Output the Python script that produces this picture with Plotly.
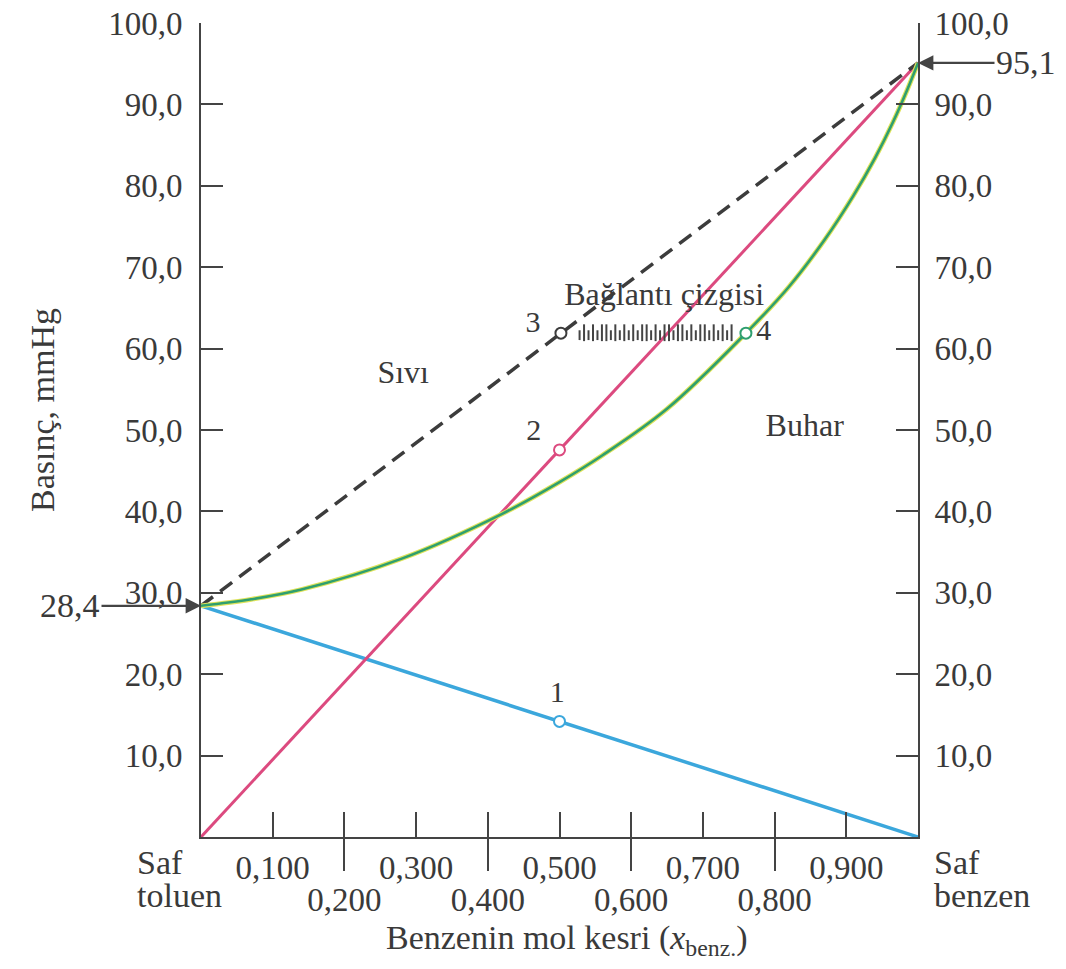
import plotly.graph_objects as go
import numpy as np

FONT = "Liberation Serif, Times New Roman, serif"
INK = "#3a3a3a"
AXIS = "#444444"

# ---------------- data ----------------
x_ends = [0.0, 1.0]
p_toluene = [28.4, 0.0]      # partial pressure of toluene
p_benzene = [0.0, 95.1]      # partial pressure of benzene
p_total = [28.4, 95.1]       # total pressure (liquid line)

# vapour (dew) line
vapor_x = [0.0, 0.07, 0.14, 0.28, 0.42, 0.5, 0.56, 0.65, 0.76,
           0.82, 0.87, 0.91, 0.94, 0.965, 0.985, 1.0]
vapor_p = [28.4, 29.2, 30.4, 34.2, 39.7, 43.6, 46.9, 52.6, 61.9,
           67.6, 73.4, 78.8, 83.4, 87.8, 91.8, 95.1]

point_names = ["1", "2", "3", "4"]
point_x = [0.5, 0.5, 0.502, 0.76]
point_p = [14.2, 47.55, 61.9, 61.9]
point_colors = ["#3ba7dc", "#dc4a7f", "#3c3c3c", "#2f9f6f"]
label_x = [0.497, 0.464, 0.463, 0.785]
label_p = [17.5, 49.7, 63.0, 62.0]

region_text = ["Sıvı", "Buhar", "Bağlantı çizgisi"]
region_x = [0.282, 0.842, 0.646]
region_p = [56.8, 50.3, 66.4]

y_ticks = [10, 20, 30, 40, 50, 60, 70, 80, 90, 100]
y_labels = ["10,0", "20,0", "30,0", "40,0", "50,0", "60,0", "70,0", "80,0", "90,0", "100,0"]
x_ticks_up = [0.1, 0.3, 0.5, 0.7, 0.9]
x_labels_up = ["0,100", "0,300", "0,500", "0,700", "0,900"]
x_ticks_low = [0.2, 0.4, 0.6, 0.8]
x_labels_low = ["0,200", "0,400", "0,600", "0,800"]

# tie-line ruler pattern (0 = short tick, 1 = tall tick)
ruler_pattern = [0, 1, 0, 1, 0, 1, 1, 0, 1, 0, 1, 0, 1, 0, 1, 1, 0, 1,
                 0, 1, 1, 0, 1, 1, 0, 1, 0, 1, 1, 0, 1, 0, 1, 0, 1]

fig = go.Figure()

fig.add_trace(go.Scatter(x=x_ends, y=p_toluene, mode="lines",
                         line=dict(color="#3ba7dc", width=3.5), hoverinfo="skip"))
fig.add_trace(go.Scatter(x=x_ends, y=p_benzene, mode="lines",
                         line=dict(color="#dc4a7f", width=3), hoverinfo="skip"))
fig.add_trace(go.Scatter(x=x_ends, y=p_total, mode="lines",
                         line=dict(color="#3c3c3c", width=3.5, dash="15px,9px"),
                         hoverinfo="skip"))
fig.add_trace(go.Scatter(x=vapor_x, y=vapor_p, mode="lines", line_shape="spline",
                         line=dict(color="#dfe35a", width=4.8), hoverinfo="skip"))
fig.add_trace(go.Scatter(x=vapor_x, y=vapor_p, mode="lines", line_shape="spline",
                         line=dict(color="#2f9f6f", width=2.6), hoverinfo="skip"))

# tie-line ruler between points 3 and 4
r0 = point_x[2] + 0.026
r1 = point_x[3] - 0.02
rx = np.linspace(r0, r1, len(ruler_pattern))
tall = [x for x, t in zip(rx, ruler_pattern) if t == 1]
short = [x for x, t in zip(rx, ruler_pattern) if t == 0]
tie_p = point_p[2]
fig.add_trace(go.Scatter(x=tall, y=[tie_p + 0.05] * len(tall), mode="markers",
                         marker=dict(symbol="line-ns", size=12,
                                     line=dict(width=2, color=AXIS)), hoverinfo="skip"))
fig.add_trace(go.Scatter(x=short, y=[tie_p - 0.25] * len(short), mode="markers",
                         marker=dict(symbol="line-ns", size=7,
                                     line=dict(width=2, color=AXIS)), hoverinfo="skip"))

# marked points
fig.add_trace(go.Scatter(x=point_x, y=point_p, mode="markers",
                         marker=dict(symbol="circle", size=11, color="white",
                                     line=dict(width=2, color=point_colors)),
                         hoverinfo="skip"))
fig.add_trace(go.Scatter(x=label_x, y=label_p, mode="text", text=point_names,
                         textfont=dict(family=FONT, size=30, color=INK), hoverinfo="skip"))
fig.add_trace(go.Scatter(x=region_x, y=region_p, mode="text", text=region_text,
                         textfont=dict(family=FONT, size=32, color=INK), hoverinfo="skip"))

# invisible traces to activate the secondary axes
fig.add_trace(go.Scatter(x=[0], y=[0], xaxis="x2", yaxis="y2", mode="markers",
                         marker=dict(opacity=0), hoverinfo="skip"))
fig.add_trace(go.Scatter(x=[0], y=[0], xaxis="x3", yaxis="y", mode="markers",
                         marker=dict(opacity=0), hoverinfo="skip"))

L, R, T, B = 201, 918, 23, 837
W, H = 1066, 969

def px(xp):
    return (xp - L) / (R - L)

def py(yp):
    return (B - yp) / (B - T)

tickfont = dict(family=FONT, size=33, color=INK)
common_x = dict(range=[0, 1], showgrid=False, zeroline=False, automargin=False,
                tickmode="array", tickwidth=2, tickcolor=AXIS, tickfont=tickfont)

fig.update_layout(
    width=W, height=H,
    margin=dict(l=L, r=W - R, t=T, b=H - B, autoexpand=False),
    paper_bgcolor="white", plot_bgcolor="white",
    showlegend=False,
    xaxis=dict(**common_x, showline=True, linecolor=AXIS, linewidth=2,
               tickvals=x_ticks_up, ticktext=x_labels_up,
               ticks="inside", ticklen=25, ticklabelstandoff=0),
    xaxis2=dict(**common_x, overlaying="x", anchor="y", side="bottom", showline=False,
                tickvals=x_ticks_low, ticktext=x_labels_low,
                ticks="outside", ticklen=33, ticklabelstandoff=0),
    xaxis3=dict(**common_x, overlaying="x", anchor="y", side="bottom", showline=False,
                tickvals=x_ticks_low, showticklabels=False,
                ticks="inside", ticklen=25),
    yaxis=dict(range=[0, 100], showgrid=False, zeroline=False, automargin=False,
               showline=True, linecolor=AXIS, linewidth=2,
               tickmode="array", tickvals=y_ticks, ticktext=y_labels,
               ticks="inside", ticklen=22, tickwidth=2, tickcolor=AXIS,
               tickfont=tickfont, ticklabelstandoff=10),
    yaxis2=dict(range=[0, 100], overlaying="y", side="right", anchor="x",
                showgrid=False, zeroline=False, automargin=False,
                showline=True, linecolor=AXIS, linewidth=2,
                tickmode="array", tickvals=y_ticks, ticktext=y_labels,
                ticks="inside", ticklen=22, tickwidth=2, tickcolor=AXIS,
                tickfont=tickfont, ticklabelstandoff=8),
)

txt = dict(family=FONT, size=34, color=INK)
ann = [
    dict(x=0, y=28.4, xref="x", yref="y", text="28,4", showarrow=True,
         ax=-131, ay=0, arrowhead=2, arrowsize=1.4, arrowwidth=2.2,
         arrowcolor=AXIS, font=txt, standoff=0),
    dict(x=1, y=95.1, xref="x", yref="y", text="95,1", showarrow=True,
         ax=108, ay=0, arrowhead=2, arrowsize=1.4, arrowwidth=2.2,
         arrowcolor=AXIS, font=txt, standoff=0),
    dict(x=px(135), y=py(862), xref="paper", yref="paper", text="Saf",
         showarrow=False, xanchor="left", yanchor="middle", font=txt),
    dict(x=px(135), y=py(895), xref="paper", yref="paper", text="toluen",
         showarrow=False, xanchor="left", yanchor="middle", font=txt),
    dict(x=px(932), y=py(862), xref="paper", yref="paper", text="Saf",
         showarrow=False, xanchor="left", yanchor="middle", font=txt),
    dict(x=px(932), y=py(895), xref="paper", yref="paper", text="benzen",
         showarrow=False, xanchor="left", yanchor="middle", font=txt),
    dict(x=px(567), y=py(940), xref="paper", yref="paper",
         text="Benzenin mol kesri (<i>x</i><sub>benz.</sub>)",
         showarrow=False, xanchor="center", yanchor="middle", font=txt),
    dict(x=px(42), y=py(410), xref="paper", yref="paper", text="Basınç, mmHg",
         textangle=-90, showarrow=False, xanchor="center", yanchor="middle", font=txt),
]
fig.update_layout(annotations=ann)

fig.write_html("out.html", config={"displayModeBar": False},
               post_script="document.body.style.margin='0';document.body.style.overflow='hidden';")
